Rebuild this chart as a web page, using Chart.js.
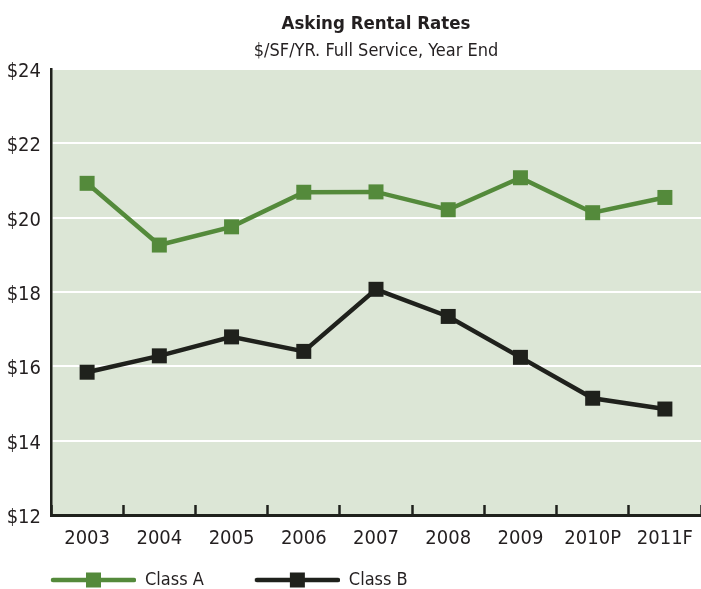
<!DOCTYPE html>
<html>
<head>
<meta charset="utf-8">
<script src="https://cdn.jsdelivr.net/npm/chart.js@4.4.1/dist/chart.umd.min.js"></script>
<style>
  html, body { margin: 0; padding: 0; background: #ffffff; }
  #wrap { width: 701px; height: 589px; }
</style>
</head>
<body>
<div id="wrap"><canvas id="c" width="701" height="589"></canvas></div>
<script>
const categories = ['2003', '2004', '2005', '2006', '2007', '2008', '2009', '2010P', '2011F'];
const classA = [20.92, 19.26, 19.75, 20.68, 20.69, 20.21, 21.07, 20.13, 20.54];
const classB = [15.84, 16.28, 16.79, 16.40, 18.07, 17.34, 16.24, 15.14, 14.85];
const yMin = 12, yMax = 24, yStep = 2;
const titleText = 'Asking Rental Rates';
const subtitleText = '$/SF/YR. Full Service, Year End';
const seriesNames = ['Class A', 'Class B'];

const GREEN = '#548a3b';
const BLACK = '#1f211c';
const TEXT = '#231f20';
const FONT = "'Liberation Sans Narrow', 'DejaVu Sans Condensed', 'Liberation Sans', sans-serif";

function legendIcon(color) {
  const cv = document.createElement('canvas');
  const margin = 49, lineLen = 85;
  cv.width = margin + lineLen; cv.height = 16;
  const g = cv.getContext('2d');
  g.strokeStyle = color; g.lineWidth = 4.5; g.lineCap = 'round';
  g.beginPath(); g.moveTo(margin + 2, 8); g.lineTo(margin + lineLen - 2, 8); g.stroke();
  g.fillStyle = color;
  g.fillRect(margin + lineLen / 2 - 7.5, 0.5, 15, 15);
  return cv;
}
const legendIcons = [legendIcon(GREEN), legendIcon(BLACK)];

const plotBg = {
  id: 'plotBg',
  beforeDraw(chart) {
    const {ctx, chartArea: a} = chart;
    ctx.save();
    ctx.fillStyle = '#dce6d6';
    ctx.fillRect(a.left, a.top, a.right - a.left, a.bottom - a.top);
    ctx.restore();
  }
};

new Chart(document.getElementById('c'), {
  type: 'line',
  data: {
    labels: categories,
    datasets: [
      { label: seriesNames[0], data: classA, borderColor: GREEN, backgroundColor: GREEN,
        borderWidth: 4.5, pointStyle: 'rect', pointRadius: 10.6, pointBorderWidth: 0,
        pointHoverRadius: 10.6, tension: 0, clip: false },
      { label: seriesNames[1], data: classB, borderColor: BLACK, backgroundColor: BLACK,
        borderWidth: 4.5, pointStyle: 'rect', pointRadius: 10.6, pointBorderWidth: 0,
        pointHoverRadius: 10.6, tension: 0, clip: false }
    ]
  },
  options: {
    responsive: false,
    animation: false,
    layout: { autoPadding: false, padding: { left: 0, right: 0, top: 0, bottom: -10 } },
    plugins: {
      title: { display: true, text: titleText, fullSize: false, color: TEXT,
        font: { family: FONT, size: 18.5, weight: 'bold' }, padding: { top: 13, bottom: 3 } },
      subtitle: { display: true, text: subtitleText, fullSize: false, color: TEXT,
        font: { family: FONT, size: 18, weight: 'normal' }, padding: { top: 2, bottom: 7 } },
      legend: {
        position: 'bottom', align: 'start',
        labels: {
          usePointStyle: true, pointStyleWidth: 134, padding: 2, color: TEXT,
          font: { family: FONT, size: 18 },
          generateLabels(chart) {
            const items = Chart.defaults.plugins.legend.labels.generateLabels(chart);
            items.forEach((it, i) => { it.pointStyle = legendIcons[i]; });
            return items;
          }
        }
      },
      tooltip: { enabled: false }
    },
    scales: {
      x: {
        offset: true,
        grid: { display: true, offset: true, drawOnChartArea: false, drawTicks: true,
          tickLength: -10, tickWidth: 2.5, tickColor: BLACK, color: BLACK },
        border: { display: true, color: BLACK, width: 3 },
        ticks: { color: TEXT, font: { family: FONT, size: 20 }, padding: 22, maxRotation: 0 },
        afterFit(s) { s.paddingLeft = 0; s.paddingRight = 0; s.height -= 4; }
      },
      y: {
        min: yMin, max: yMax,
        grid: { color: '#ffffff', lineWidth: 2, drawTicks: false },
        border: { display: true, color: BLACK, width: 2.5 },
        ticks: { stepSize: yStep, color: TEXT, padding: 10, labelOffset: 3,
          font: { family: FONT, size: 20 }, callback: v => '$' + v },
        afterFit(s) { s.width = 51; }
      }
    }
  },
  plugins: [plotBg]
});
</script>
</body>
</html>
